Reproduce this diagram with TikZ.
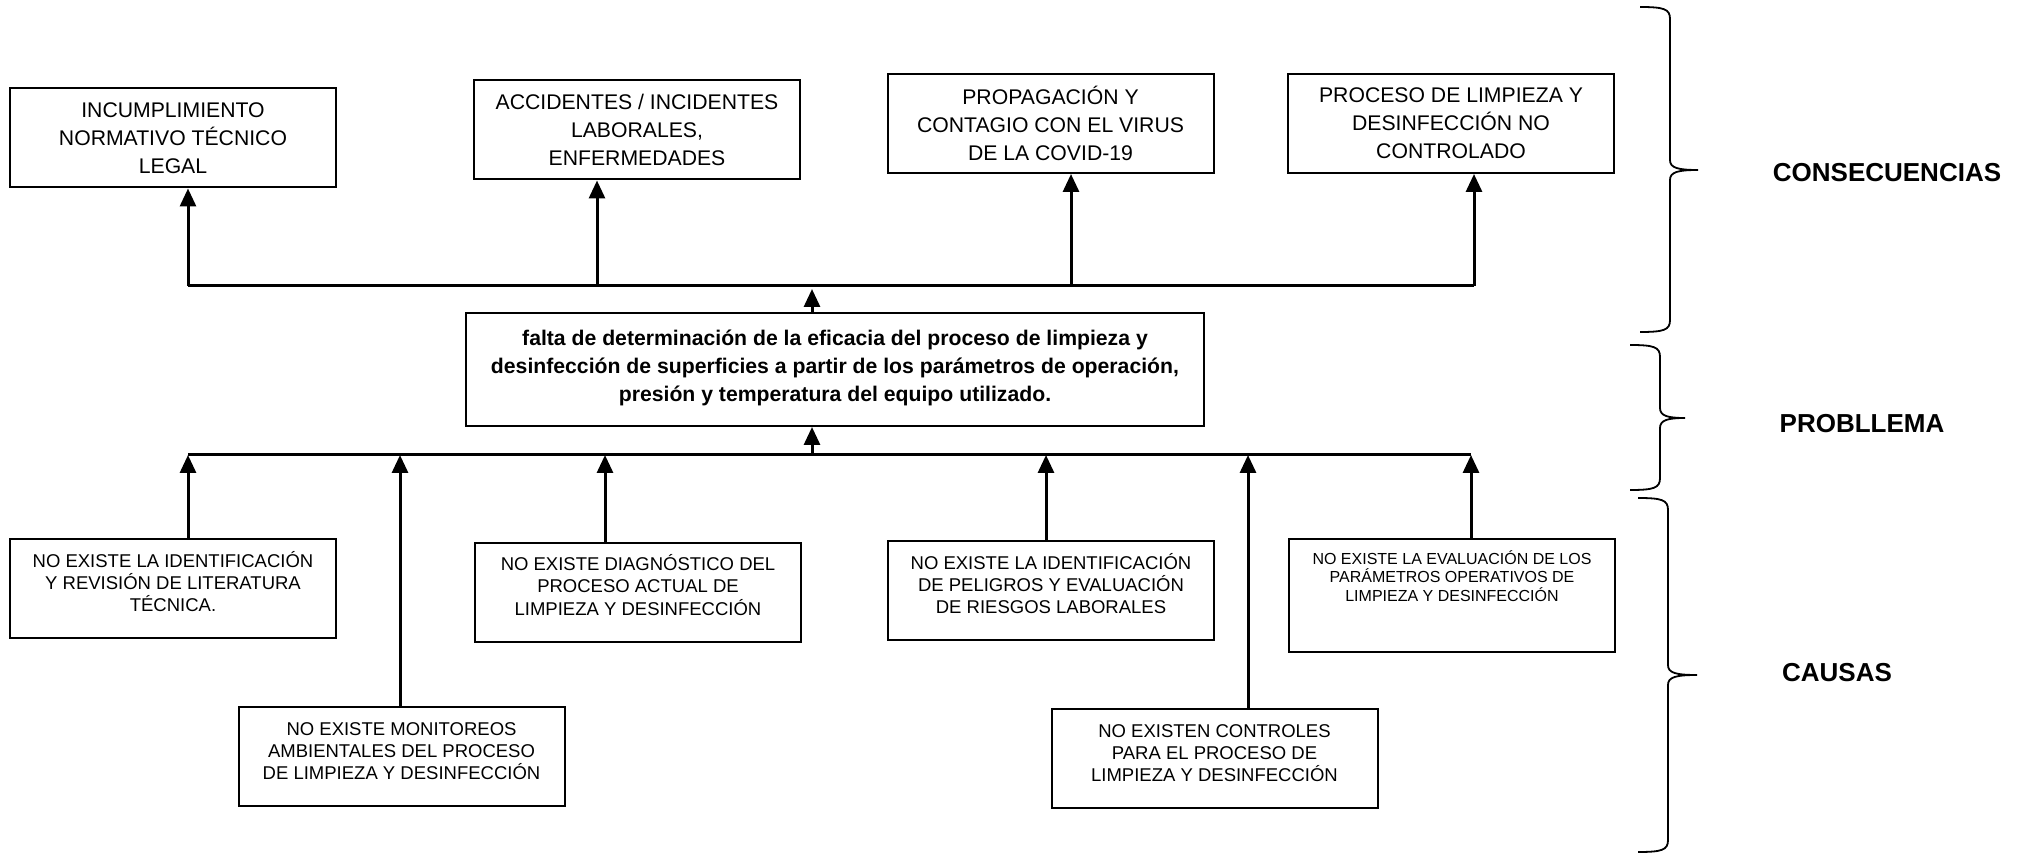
\documentclass[tikz,border=0pt]{standalone}
\usepackage{fontspec}
\setmainfont{Liberation Sans}
\usetikzlibrary{%
  arrows.meta,%
  positioning,%
}
\newcommand{\ini}{\rule{0pt}{9pt}}% gleiche Oberkante der ersten Zeile

\begin{document}
\begin{tikzpicture}[x=0.5pt,y=-0.5pt,
    box/.style={draw,line width=1pt,minimum width=163pt,minimum height=49.5pt,
      inner sep=0pt,align=center,font=\fontsize{10.6}{14}\selectfont},
    cbox/.style={draw,line width=1pt,minimum width=163pt,minimum height=49.5pt,inner sep=0pt},
    ctxt/.style={anchor=north,yshift=-5.3pt,inner sep=0pt,align=center,
      font=\fontsize{9.25}{11}\selectfont},
    stxt/.style={anchor=north,yshift=-3.9pt,inner sep=0pt,align=center,
      font=\fontsize{8}{9.25}\selectfont},
    ptxt/.style={anchor=north,yshift=-7.4pt,inner sep=0pt,align=center,
      font=\fontsize{10.6}{14.2}\selectfont\bfseries},
    lab/.style={font=\fontsize{13}{15}\selectfont\bfseries},
    link/.style={line width=1.5pt},
    flecha/.style={line width=1.5pt,-{Triangle[length=9pt,width=8pt]}},
    llave/.style={line width=0.9pt},
  ]
        \useasboundingbox (0,0) rectangle (2025,855);

        % consecuencias
        \node[box] (k1) at (173,138) {INCUMPLIMIENTO\\NORMATIVO TÉCNICO\\LEGAL};
        \node[box] (k2) at (637,130) {ACCIDENTES / INCIDENTES\\LABORALES,\\ENFERMEDADES};
        \node[box] (k3) at (1050.5,123.5) {PROPAGACIÓN Y\\CONTAGIO CON EL VIRUS\\DE LA COVID-19};
        \node[box] (k4) at (1451,123.5) {PROCESO DE LIMPIEZA Y\\DESINFECCIÓN NO\\CONTROLADO};

        % problema
        \node[cbox,minimum width=369pt,minimum height=56.5pt] (p) at (835,369.5)
          [label={[ptxt]90:{\ini falta de determinación de la eficacia del proceso de limpieza y\\desinfección de superficies a partir de los parámetros de operación,\\presión y temperatura del equipo utilizado.}}] {};

        % causas
        \node[cbox] (c1) at (173,588.5)
          [label={[ctxt]90:{\ini NO EXISTE LA IDENTIFICACIÓN\\Y REVISIÓN DE LITERATURA\\TÉCNICA.}}] {};
        \node[cbox] (c2) at (401.5,756.5)
          [label={[ctxt]90:{\ini NO EXISTE MONITOREOS\\AMBIENTALES DEL PROCESO\\DE LIMPIEZA Y DESINFECCIÓN}}] {};
        \node[cbox] (c3) at (638,592.5)
          [label={[ctxt]90:{\ini NO EXISTE DIAGNÓSTICO DEL\\PROCESO ACTUAL DE\\LIMPIEZA Y DESINFECCIÓN}}] {};
        \node[cbox] (c4) at (1051,590.5)
          [label={[ctxt]90:{\ini NO EXISTE LA IDENTIFICACIÓN\\DE PELIGROS Y EVALUACIÓN\\DE RIESGOS LABORALES}}] {};
        \node[cbox] (c5) at (1214.5,758.5)
          [label={[ctxt]90:{\ini NO EXISTEN CONTROLES\\PARA EL PROCESO DE\\LIMPIEZA Y DESINFECCIÓN}}] {};
        \node[cbox,minimum height=56.5pt] (c6) at (1452,595.5)
          [label={[stxt]90:{\ini NO EXISTE LA EVALUACIÓN DE LOS\\PARÁMETROS OPERATIVOS DE\\LIMPIEZA Y DESINFECCIÓN}}] {};

        % Sammelschienen
        \coordinate (a1) at (188,286);
        \coordinate (a2) at (597,286);
        \coordinate (a0) at (812,289);
        \coordinate (a3) at (1071,286);
        \coordinate (a4) at (1474,286);
        \coordinate (b1) at (188,455);
        \coordinate (b2) at (400,455);
        \coordinate (b3) at (605,455);
        \coordinate (b0) at (812,455);
        \coordinate (b4) at (1046,455);
        \coordinate (b5) at (1248,455);
        \coordinate (b6) at (1471,455);

        \draw[link] (a1) -- (a4);
        \draw[link] (b1) -- (b6);

        \draw[flecha] (a1) -- (a1 |- k1.south);
        \draw[flecha] (a2) -- (a2 |- k2.south);
        \draw[flecha] (a3) -- (a3 |- k3.south);
        \draw[flecha] (a4) -- (a4 |- k4.south);
        \draw[flecha] (a0 |- p.north) -- (a0);
        \draw[flecha] (b0) -- (b0 |- p.south);

        \draw[flecha] (b1 |- c1.north) -- (b1);
        \draw[flecha] (b2 |- c2.north) -- (b2);
        \draw[flecha] (b3 |- c3.north) -- (b3);
        \draw[flecha] (b4 |- c4.north) -- (b4);
        \draw[flecha] (b5 |- c5.north) -- (b5);
        \draw[flecha] (b6 |- c6.north) -- (b6);

        % Klammern
        \foreach \ya/\ym/\yb/\xv/\xt in {7/170/332/1670/1698, 345/418/490/1660/1685, 498/675/852/1668/1697}
          \draw[llave] (\xv-30,\ya) .. controls (\xv-6,\ya) and (\xv,\ya+2) .. (\xv,\ya+12)
            -- (\xv,\ym-10) .. controls (\xv,\ym-2) and (\xv+8,\ym) .. (\xt,\ym)
            .. controls (\xv+8,\ym) and (\xv,\ym+2) .. (\xv,\ym+10)
            -- (\xv,\yb-12) .. controls (\xv,\yb-2) and (\xv-6,\yb) .. (\xv-30,\yb);

        \node[lab] (cons) at (1887,173) {CONSECUENCIAS};
        \node[lab] (prob) at (1862,424) {PROBLLEMA};
        \node[lab] (caus) at (1837,673) {CAUSAS};
    \end{tikzpicture}
\end{document}
